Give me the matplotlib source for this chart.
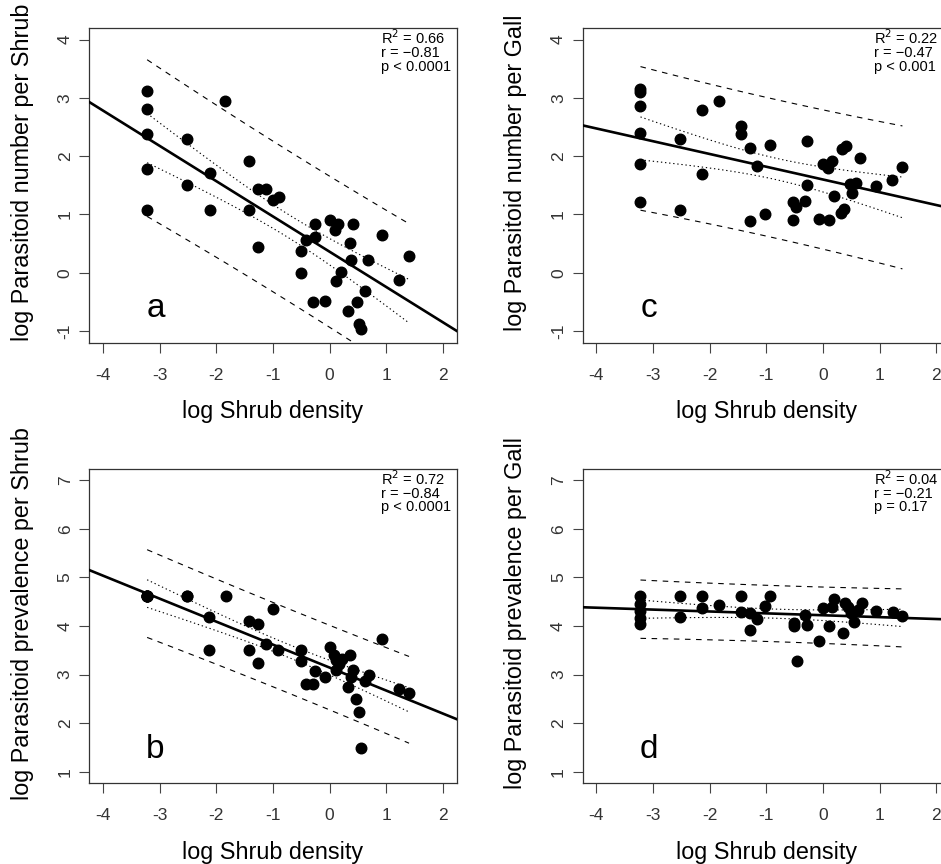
import numpy as np
import matplotlib
matplotlib.use("Agg")
import matplotlib.pyplot as plt
from matplotlib import font_manager

plt.rcParams['font.family'] = ['Liberation Sans', 'DejaVu Sans']
names = {f.name for f in font_manager.fontManager.ttflist}
NARROW = ['Liberation Sans Narrow', 'Liberation Sans'] if 'Liberation Sans Narrow' in names else ['Liberation Sans']

# ---- data ----
# a: log parasitoid number per shrub
xa = [-3.22, -3.22, -3.22, -3.22, -3.22, -2.52, -2.52, -2.11, -2.11, -1.84,
      -1.42, -1.42, -1.26, -1.13, -1.26, -1.00, -0.89, -0.50, -0.50, -0.42,
      -0.26, -0.26, -0.30, -0.08, 0.00, 0.09, 0.15, 0.20, 0.11, 0.36,
      0.41, 0.37, 0.32, 0.48, 0.62, 0.52, 0.55, 0.68, 0.93, 1.23, 1.40]
ya = [3.12, 2.81, 2.38, 1.78, 1.08, 2.30, 1.50, 1.72, 1.08, 2.94,
      1.91, 1.08, 1.44, 1.44, 0.44, 1.24, 1.30, 0.38, 0.00, 0.56,
      0.84, 0.62, -0.50, -0.49, 0.90, 0.74, 0.83, 0.01, -0.15, 0.51,
      0.84, 0.22, -0.65, -0.50, -0.31, -0.88, -0.96, 0.22, 0.65, -0.12, 0.29]

# b: log parasitoid prevalence per shrub
xb = [-3.22, -3.22, -3.22, -3.22, -3.22, -2.52, -2.52, -2.12, -2.12, -1.83,
      -1.42, -1.42, -1.26, -1.26, -1.00, -1.13, -0.91, -0.50, -0.50, -0.42,
      -0.29, -0.26, -0.08, 0.00, 0.08, 0.12, 0.16, 0.11, 0.21, 0.36,
      0.41, 0.37, 0.32, 0.47, 0.52, 0.56, 0.62, 0.69, 0.93, 1.23, 1.40]
yb = [4.62, 4.62, 4.62, 4.62, 4.62, 4.62, 4.62, 4.19, 3.50, 4.62,
      4.10, 3.50, 4.05, 3.23, 4.34, 3.63, 3.50, 3.50, 3.28, 2.80,
      2.80, 3.08, 2.95, 3.57, 3.40, 3.30, 3.21, 3.09, 3.31, 3.40,
      3.09, 2.94, 2.75, 2.50, 2.23, 1.49, 2.87, 2.99, 3.74, 2.71, 2.61]

# c: log parasitoid number per gall
xc = [-3.22, -3.22, -3.22, -3.22, -3.22, -3.22, -2.53, -2.53, -2.14, -2.14,
      -1.84, -1.44, -1.44, -1.29, -1.29, -1.16, -1.03, -0.93, -0.53, -0.53,
      -0.47, -0.32, -0.28, -0.28, -0.08, 0.00, 0.08, 0.15, 0.11, 0.19,
      0.34, 0.40, 0.32, 0.37, 0.47, 0.51, 0.59, 0.66, 0.93, 1.22, 1.40]
yc = [3.16, 3.10, 2.86, 2.39, 1.86, 1.21, 2.30, 1.08, 2.80, 1.70,
      2.94, 2.51, 2.38, 2.14, 0.88, 1.83, 1.00, 2.20, 1.21, 0.90,
      1.13, 1.23, 2.26, 1.50, 0.92, 1.86, 1.80, 1.91, 0.90, 1.32,
      2.13, 2.17, 1.03, 1.09, 1.53, 1.36, 1.54, 1.97, 1.48, 1.60, 1.82]

# d: log parasitoid prevalence per gall
xd = [-3.22, -3.22, -3.22, -3.22, -3.22, -2.53, -2.53, -2.14, -2.14, -1.84,
      -1.44, -1.44, -1.29, -1.29, -1.16, -1.03, -0.93, -0.52, -0.52, -0.46,
      -0.32, -0.28, -0.08, 0.00, 0.10, 0.19, 0.15, 0.35, 0.38, 0.44,
      0.50, 0.54, 0.68, 0.62, 0.94, 1.24, 1.40]
yd = [4.62, 4.45, 4.30, 4.17, 4.05, 4.62, 4.19, 4.62, 4.36, 4.44,
      4.62, 4.29, 4.26, 3.91, 4.14, 4.42, 4.62, 4.07, 4.00, 3.28,
      4.22, 4.02, 3.69, 4.36, 4.00, 4.55, 4.40, 3.85, 4.48, 4.40,
      4.26, 4.09, 4.47, 4.33, 4.31, 4.29, 4.20]

stats_a = ["R$^2$ = 0.66", "r = \u22120.81", "p < 0.0001"]
stats_b = ["R$^2$ = 0.72", "r = \u22120.84", "p < 0.0001"]
stats_c = ["R$^2$ = 0.22", "r = \u22120.47", "p < 0.001"]
stats_d = ["R$^2$ = 0.04", "r = \u22120.21", "p = 0.17"]

ylab_a = "log Parasitoid number per Shrub"
ylab_b = "log Parasitoid prevalence per Shrub"
ylab_c = "log Parasitoid number per Gall"
ylab_d = "log Parasitoid prevalence per Gall"
xlab = "log Shrub density"

T975 = 2.02  # t quantile, ~40 df


def panel(ax, x, y, letter, stats, ylab, ylim, yticks):
    x = np.asarray(x)
    y = np.asarray(y)
    n = len(x)
    b1, b0 = np.polyfit(x, y, 1)
    resid = y - (b0 + b1 * x)
    s = np.sqrt(np.sum(resid ** 2) / (n - 2))
    sxx = np.sum((x - x.mean()) ** 2)
    xx = np.linspace(x.min(), x.max(), 100)
    fit = b0 + b1 * xx
    se_c = s * np.sqrt(1 / n + (xx - x.mean()) ** 2 / sxx)
    se_p = s * np.sqrt(1 + 1 / n + (xx - x.mean()) ** 2 / sxx)

    xl = np.array([-4.24, 2.24])
    ax.plot(xl, b0 + b1 * xl, color='black', lw=1.9, zorder=3)
    for sgn in (-1, 1):
        ax.plot(xx, fit + sgn * T975 * se_c, color='black', lw=0.8,
                dashes=(1.2, 2.5), zorder=2)
        ax.plot(xx, fit + sgn * T975 * se_p, color='black', lw=0.8,
                dashes=(5, 5), zorder=2)
    ax.plot(x, y, 'o', color='black', ms=7.6, zorder=4)

    ax.set_xlim(-4.24, 2.24)
    ax.set_ylim(*ylim)
    ax.set_xticks([-4, -3, -2, -1, 0, 1, 2])
    ax.set_xticklabels([str(t) for t in [-4, -3, -2, -1, 0, 1, 2]])
    ax.set_yticks(yticks)
    ax.set_yticklabels([str(t) for t in yticks], rotation=90, va='center')
    ax.tick_params(direction='out', length=7, width=0.8, colors='#444444',
                   labelsize=12.5)
    for lab in ax.get_xticklabels() + ax.get_yticklabels():
        lab.set_family(NARROW)
        lab.set_color('#333333')
    ax.tick_params(axis='x', pad=11)
    ax.tick_params(axis='y', pad=5)
    for sp in ax.spines.values():
        sp.set_color('#333333')
        sp.set_linewidth(0.9)

    ax.set_xlabel(xlab, fontsize=16.8)
    ax.xaxis.set_label_coords(0.5, -0.22)
    ax.xaxis.label.set_va('center')
    ax.set_ylabel(ylab, fontsize=16.8)
    ax.yaxis.set_label_coords(-0.183, 0.54)
    ax.yaxis.label.set_va('center')

    ax.text(0.18, 0.08, letter, transform=ax.transAxes, fontsize=24,
            ha='center', va='baseline')
    ax.text(0.794, 0.998, "\n".join(stats), transform=ax.transAxes,
            fontsize=10.5, ha='left', va='top', linespacing=0.92,
            family=NARROW)


fig = plt.figure(figsize=(9.41, 8.64), dpi=100)
W, H = 0.3904, 0.3642
ax_a = fig.add_axes([0.0949, 0.6034, W, H])
ax_c = fig.add_axes([0.6192, 0.6034, W, H])
ax_b = fig.add_axes([0.0949, 0.0934, W, H])
ax_d = fig.add_axes([0.6192, 0.0934, W, H])

panel(ax_a, xa, ya, "a", stats_a, ylab_a, (-1.2, 4.2), [-1, 0, 1, 2, 3, 4])
panel(ax_c, xc, yc, "c", stats_c, ylab_c, (-1.2, 4.2), [-1, 0, 1, 2, 3, 4])
panel(ax_b, xb, yb, "b", stats_b, ylab_b, (0.76, 7.24), [1, 2, 3, 4, 5, 6, 7])
panel(ax_d, xd, yd, "d", stats_d, ylab_d, (0.76, 7.24), [1, 2, 3, 4, 5, 6, 7])

fig.savefig("out.png", dpi=100)
